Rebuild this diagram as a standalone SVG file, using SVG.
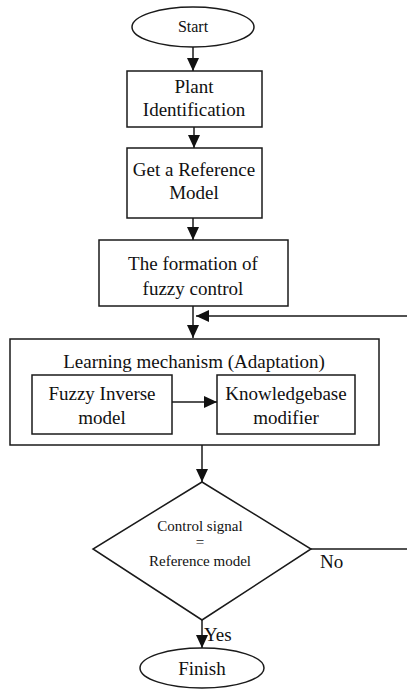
<svg xmlns="http://www.w3.org/2000/svg" width="407" height="691" viewBox="0 0 407 691">
<style>
.s{fill:#fff;stroke:#1a1a1a;stroke-width:1.5}
.c{fill:none;stroke:#1a1a1a;stroke-width:1.5}
text{font-family:"Liberation Serif","Times New Roman",serif;fill:#111;text-anchor:middle}
.t19{font-size:19px}
.t16{font-size:16px}
.t15{font-size:15px}
.l{text-anchor:start}
</style>
<defs>
<marker id="ah" markerUnits="userSpaceOnUse" markerWidth="13" markerHeight="12" refX="13" refY="6" orient="auto" viewBox="0 0 13 12">
<path d="M0,0 L13,6 L0,12 z" fill="#111"/>
</marker>
</defs>
<g id="start">
<ellipse class="s" cx="193" cy="27" rx="61" ry="20"/>
<text class="t16" x="193" y="32">Start</text>
</g>
<g id="plant">
<rect class="s" x="127" y="71" width="135" height="56"/>
<text class="t19" x="194" y="93">Plant</text>
<text class="t19" x="194" y="116">Identification</text>
</g>
<g id="reference">
<rect class="s" x="127" y="148" width="135" height="70"/>
<text class="t19" x="194" y="176">Get a Reference</text>
<text class="t19" x="194" y="199">Model</text>
</g>
<g id="formation">
<rect class="s" x="99" y="240" width="189" height="66"/>
<text class="t19" x="193" y="270">The formation of</text>
<text class="t19" x="193" y="295">fuzzy control</text>
</g>
<g id="learning">
<rect class="s" x="10" y="339" width="369" height="106"/>
<text class="t19" x="194" y="368">Learning mechanism (Adaptation)</text>
</g>
<g id="inverse">
<rect class="s" x="32" y="375" width="140" height="59"/>
<text class="t19" x="102" y="400">Fuzzy Inverse</text>
<text class="t19" x="102" y="424">model</text>
</g>
<g id="modifier">
<rect class="s" x="217" y="375" width="138" height="59"/>
<text class="t19" x="286" y="400">Knowledgebase</text>
<text class="t19" x="286" y="424">modifier</text>
</g>
<g id="decision">
<polygon class="s" points="202,482 311,549 202,620 93,549"/>
<text class="t15" x="200" y="531">Control signal</text>
<text class="t15" x="200" y="547">=</text>
<text class="t15" x="200" y="566">Reference model</text>
<text class="t19 l" x="320" y="568">No</text>
<text class="t19 l" x="204" y="641">Yes</text>
</g>
<g id="finish">
<ellipse class="s" cx="202" cy="668" rx="62" ry="20"/>
<text class="t19" x="202" y="675">Finish</text>
</g>
<g id="connectors">
<path class="c" d="M193,47 V71" marker-end="url(#ah)"/>
<path class="c" d="M194,127 V148" marker-end="url(#ah)"/>
<path class="c" d="M193,218 V240" marker-end="url(#ah)"/>
<path class="c" d="M193,306 V338" marker-end="url(#ah)"/>
<path class="c" d="M311,549 H410 V316 H196" marker-end="url(#ah)"/>
<path class="c" d="M172,402 H217" marker-end="url(#ah)"/>
<path class="c" d="M202,445 V482" marker-end="url(#ah)"/>
<path class="c" d="M202,620 V648" marker-end="url(#ah)"/>
</g>
</svg>
